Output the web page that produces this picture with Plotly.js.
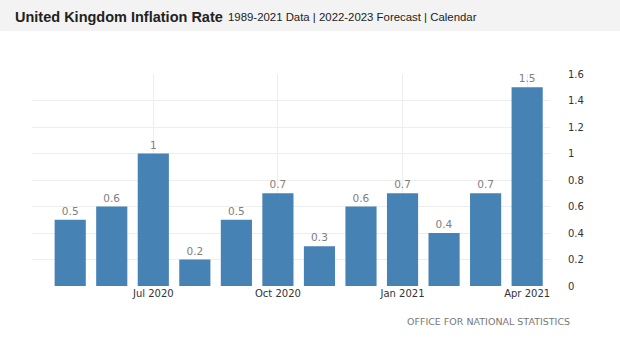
<!DOCTYPE html>
<html>
<head>
<meta charset="utf-8">
<script src="https://cdn.plot.ly/plotly-3.0.1.min.js"></script>
<style>html,body{margin:0;padding:0;background:#fff;}#chart{width:620px;height:353px;}</style>
</head>
<body>
<div id="chart"></div>
<script>
const months = ['May 2020','Jun 2020','Jul 2020','Aug 2020','Sep 2020','Oct 2020','Nov 2020','Dec 2020','Jan 2021','Feb 2021','Mar 2021','Apr 2021'];
const inflation = [0.5, 0.6, 1, 0.2, 0.5, 0.7, 0.3, 0.6, 0.7, 0.4, 0.7, 1.5];
const xTicks = ['Jul 2020','Oct 2020','Jan 2021','Apr 2021'];
const yTicks = [0, 0.2, 0.4, 0.6, 0.8, 1, 1.2, 1.4, 1.6];
const titleText = 'United Kingdom Inflation Rate';
const subtitleText = '1989-2021 Data | 2022-2023 Forecast | Calendar';
const sourceText = 'OFFICE FOR NATIONAL STATISTICS';

const W = 620, H = 353, ml = 32, mr = 70, mt = 74, mb = 67;
const pw = W - ml - mr, ph = H - mt - mb;
const px = x => (x - ml) / pw;
const py = y => (H - mb - y) / ph;

const trace = {
  type: 'bar',
  x: months,
  y: inflation,
  marker: {color: '#4682B4'},
  text: inflation.map(String),
  textposition: 'outside',
  textfont: {family: 'DejaVu Sans, sans-serif', size: 10.5, color: '#808080'},
  cliponaxis: false,
  hoverinfo: 'x+y'
};

const layout = {
  width: W, height: H,
  margin: {l: ml, r: mr, t: mt, b: mb, pad: 0},
  paper_bgcolor: '#ffffff',
  plot_bgcolor: '#ffffff',
  bargap: 0.25,
  showlegend: false,
  font: {family: 'DejaVu Sans, sans-serif', size: 10, color: '#333'},
  xaxis: {
    type: 'category',
    range: [-0.92, 11.55],
    tickmode: 'array',
    tickvals: xTicks,
    ticktext: xTicks,
    showgrid: true,
    gridcolor: '#eeeeee',
    zeroline: false,
    showline: false,
    ticks: '',
    tickfont: {family: 'DejaVu Sans, sans-serif', size: 10, color: '#333'}
  },
  yaxis: {
    side: 'right',
    range: [0, 1.6],
    tickmode: 'array',
    tickvals: yTicks,
    ticktext: yTicks.map(String),
    showgrid: true,
    gridcolor: '#eeeeee',
    zeroline: false,
    showline: false,
    ticks: '',
    ticklabelstandoff: 17,
    tickfont: {family: 'DejaVu Sans, sans-serif', size: 10, color: '#333'}
  },
  shapes: [{
    type: 'rect', xref: 'paper', yref: 'paper', layer: 'below',
    x0: px(0), x1: px(W), y0: py(31), y1: py(0),
    fillcolor: '#f3f3f3', line: {width: 0}
  }],
  annotations: [
    {text: '<b>' + titleText + '</b>', xref: 'paper', yref: 'paper', x: px(13), y: py(17),
     xanchor: 'left', yanchor: 'middle', showarrow: false,
     font: {family: 'Liberation Sans, Arial, sans-serif', size: 14.5, color: '#222'}},
    {text: subtitleText, xref: 'paper', yref: 'paper', x: px(226), y: py(17),
     xanchor: 'left', yanchor: 'middle', showarrow: false,
     font: {family: 'Liberation Sans, Arial, sans-serif', size: 11.4, color: '#222'}},
    {text: sourceText, xref: 'paper', yref: 'paper', x: px(572), y: py(321),
     xanchor: 'right', yanchor: 'middle', showarrow: false,
     font: {family: 'DejaVu Sans, sans-serif', size: 9.5, color: '#777'}}
  ]
};

Plotly.newPlot('chart', [trace], layout, {displayModeBar: false, staticPlot: true});
</script>
</body>
</html>
